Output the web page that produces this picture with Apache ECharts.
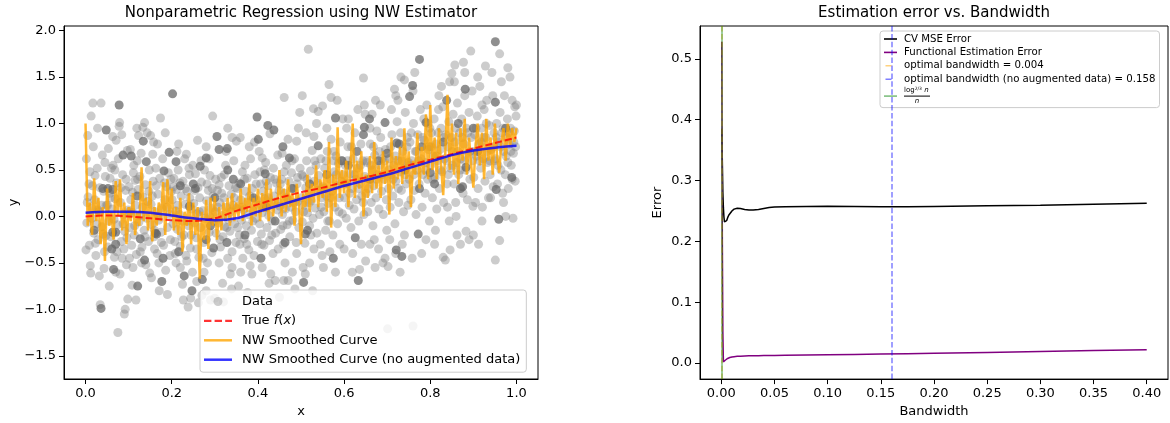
<!DOCTYPE html>
<html>
<head>
<meta charset="utf-8">
<script src="https://cdn.jsdelivr.net/npm/echarts@6/dist/echarts.min.js"></script>
<style>
  html, body { margin: 0; padding: 0; background: #fff; }
  #chart { width: 1170px; height: 423px; }
</style>
</head>
<body>
<div id="chart"></div>
<script>
// ---- Left panel: noisy observations (light = single, dark = repeated samples) ----
const scatterLight = [
  [0.017,1.22],[0.036,1.22],[0.013,1.08],[0.005,0.87],[0.046,0.43],[0.011,-0.53],[0.012,-0.61],[0.034,-0.95],[0.002,0.62],[0.008,0.35],
  [0.021,0.18],[0.027,0.52],[0.031,0.05],[0.042,0.27],[0.003,-0.07],[0.009,-0.31],[0.015,0.09],[0.019,-0.18],[0.024,-0.42],[0.029,-0.25],
  [0.033,0.31],[0.038,-0.11],[0.044,-0.38],[0.048,0.12],[0.006,0.21],[0.014,-0.02],[0.022,0.44],[0.026,-0.08],[0.039,0.66],[0.043,-0.56],
  [0.001,-0.36],[0.018,0.75],[0.047,-0.21],[0.032,-0.64],[0.028,0.95],
  [0.004,0.15],[0.016,0.33],[0.023,-0.29],[0.037,0.12],[0.041,-0.19],[0.045,0.58],[0.01,0.48],[0.029,0.07],
  [0.079,1.01],[0.078,0.97],[0.063,0.86],[0.071,0.82],[0.053,0.73],[0.06,0.52],[0.075,-1.25],[0.09,-1.05],[0.092,-1.0],[0.098,-0.89],
  [0.055,-0.75],[0.07,-0.6],[0.085,-0.45],[0.051,0.12],[0.054,-0.05],[0.057,0.41],[0.059,-0.22],[0.062,0.08],[0.064,0.55],[0.067,-0.44],
  [0.069,0.19],[0.072,0.36],[0.074,-0.09],[0.076,0.62],[0.081,0.15],[0.083,-0.27],[0.086,0.45],[0.088,0.02],[0.091,-0.16],[0.093,0.28],
  [0.095,-0.52],[0.097,0.71],[0.099,0.07],[0.08,-0.62],[0.084,0.88],[0.056,0.25],[0.066,-0.03],[0.089,-0.35],
  [0.052,-0.33],[0.058,0.2],[0.068,0.5],[0.073,-0.38],[0.082,0.31],[0.087,-0.08],[0.094,0.4],[0.096,-0.23],
  [0.137,1.01],[0.133,0.96],[0.123,0.87],[0.115,0.39],[0.12,0.6],[0.112,0.55],[0.108,-0.74],[0.11,-0.55],[0.13,-0.5],[0.14,-0.52],
  [0.101,0.32],[0.103,-0.12],[0.105,0.18],[0.107,-0.31],[0.109,0.04],[0.111,0.47],[0.113,-0.2],[0.116,0.12],[0.118,-0.41],[0.122,0.29],
  [0.124,-0.06],[0.126,0.43],[0.128,0.01],[0.131,-0.33],[0.133,0.21],[0.136,-0.15],[0.139,0.34],[0.142,-0.02],[0.144,0.16],[0.146,-0.27],
  [0.148,0.5],[0.149,-0.61],[0.104,0.72],[0.117,-0.9],[0.129,0.68],[0.143,0.9],[0.119,0.95],[0.102,-0.45],
  [0.102,0.05],[0.109,0.26],[0.114,-0.1],[0.121,0.4],[0.127,-0.38],[0.132,0.1],[0.138,-0.22],[0.147,0.27],
  [0.151,0.87],[0.158,0.8],[0.156,0.67],[0.174,1.06],[0.19,-0.84],[0.16,-0.35],[0.17,-0.5],[0.152,0.13],[0.154,-0.09],[0.157,0.38],
  [0.159,-0.22],[0.161,0.05],[0.163,0.52],[0.166,-0.4],[0.168,0.24],[0.17,-0.04],[0.172,0.41],[0.175,-0.17],[0.177,0.09],[0.179,0.62],
  [0.181,-0.31],[0.184,0.18],[0.186,-0.58],[0.188,0.32],[0.19,-0.12],[0.192,0.47],[0.195,0.02],[0.197,-0.25],[0.199,0.27],[0.153,-0.66],
  [0.167,0.78],[0.185,0.9],[0.196,-0.42],[0.171,-0.8],
  [0.155,0.22],[0.16,-0.15],[0.164,0.33],[0.169,0.0],[0.176,-0.28],[0.183,0.36],[0.189,0.1],[0.198,0.4],
  [0.216,0.78],[0.234,0.67],[0.24,0.52],[0.238,-0.975],[0.21,-0.5],[0.22,-0.55],[0.225,-0.73],[0.235,-0.48],[0.245,-0.2],[0.23,0.62],
  [0.201,0.18],[0.203,-0.08],[0.205,0.41],[0.207,-0.27],[0.209,0.06],[0.211,0.29],[0.213,-0.14],[0.215,0.5],[0.218,0.02],[0.22,-0.32],
  [0.222,0.22],[0.224,-0.05],[0.226,0.38],[0.228,-0.2],[0.231,0.13],[0.233,-0.42],[0.236,0.27],[0.239,-0.1],[0.241,0.45],[0.243,-0.34],
  [0.246,0.08],[0.248,-0.6],[0.249,0.55],[0.212,0.7],[0.227,-0.9],[0.244,-0.88],
  [0.204,0.32],[0.208,-0.4],[0.214,0.12],[0.219,0.36],[0.223,-0.22],[0.232,0.3],[0.237,-0.05],[0.242,0.2],
  [0.295,1.08],[0.28,0.75],[0.262,-0.93],[0.27,-0.85],[0.28,-0.8],[0.29,-0.9],[0.3,-0.88],[0.275,-0.6],[0.251,0.14],[0.253,-0.07],
  [0.255,0.46],[0.257,-0.23],[0.259,0.03],[0.261,0.31],[0.263,-0.44],[0.265,0.2],[0.267,-0.12],[0.269,0.37],[0.272,0.06],[0.274,-0.28],
  [0.276,0.5],[0.278,-0.02],[0.281,0.17],[0.283,-0.5],[0.285,0.28],[0.287,-0.17],[0.289,0.44],[0.291,0.09],[0.293,-0.39],[0.296,0.22],
  [0.298,-0.05],[0.26,0.82],[0.287,0.62],[0.258,-0.7],
  [0.254,0.28],[0.258,-0.35],[0.264,0.05],[0.268,0.6],[0.273,-0.45],[0.282,0.35],[0.288,0.0],[0.294,0.3],
  [0.35,0.81],[0.34,0.85],[0.33,0.95],[0.31,0.34],[0.336,-0.62],[0.33,-0.45],[0.31,-0.5],[0.32,-0.92],[0.34,-0.55],[0.301,0.05],
  [0.303,-0.18],[0.306,0.28],[0.308,-0.07],[0.311,0.15],[0.313,-0.33],[0.315,0.42],[0.317,0.01],[0.319,-0.22],[0.321,0.2],[0.323,-0.11],
  [0.325,0.55],[0.327,0.1],[0.331,-0.03],[0.333,0.33],[0.335,-0.16],[0.338,0.24],[0.34,-0.38],[0.342,0.12],[0.344,0.6],[0.346,-0.08],
  [0.348,0.31],[0.349,-0.28],[0.318,-0.72],[0.339,-0.78],[0.326,0.7],
  [0.302,0.4],[0.307,0.1],[0.312,-0.25],[0.316,0.25],[0.322,0.45],[0.328,-0.12],[0.337,0.05],[0.345,0.2],
  [0.37,0.55],[0.382,-0.53],[0.36,-0.6],[0.365,-0.45],[0.355,-0.75],[0.38,0.75],[0.351,0.09],[0.353,-0.12],[0.356,0.36],[0.358,-0.3],
  [0.36,0.18],[0.362,-0.04],[0.364,0.48],[0.366,0.07],[0.368,-0.24],[0.371,0.27],[0.373,-0.1],[0.375,0.41],[0.377,0.02],[0.379,-0.36],
  [0.381,0.22],[0.383,0.62],[0.385,-0.15],[0.387,0.3],[0.389,0.06],[0.391,-0.42],[0.393,0.45],[0.395,-0.02],[0.397,0.18],[0.399,-0.27],
  [0.359,0.85],[0.376,-0.82],[0.392,0.8],[0.386,-0.62],
  [0.352,0.3],[0.357,-0.2],[0.363,0.1],[0.369,0.4],[0.374,-0.3],[0.378,0.15],[0.388,-0.05],[0.396,0.35],
  [0.44,-0.69],[0.42,-0.96],[0.45,-0.87],[0.43,-0.62],[0.41,-0.55],[0.435,-0.4],[0.428,0.89],[0.415,0.5],[0.41,0.63],[0.402,0.12],
  [0.404,-0.08],[0.406,0.35],[0.408,-0.19],[0.41,0.04],[0.412,0.27],[0.414,-0.31],[0.416,0.19],[0.418,0.58],[0.421,-0.12],[0.423,0.33],
  [0.425,0.01],[0.427,-0.26],[0.429,0.42],[0.431,0.15],[0.433,-0.05],[0.436,0.52],[0.438,0.22],[0.441,-0.18],[0.443,0.36],[0.445,0.07],
  [0.447,-0.35],[0.449,0.28],[0.403,0.7],[0.426,-0.72],[0.446,0.66],
  [0.405,0.48],[0.409,-0.3],[0.413,0.1],[0.419,0.38],[0.424,0.2],[0.432,-0.2],[0.439,0.4],[0.448,0.15],
  [0.461,1.28],[0.497,1.12],[0.49,0.81],[0.47,0.83],[0.46,-0.69],[0.47,-0.69],[0.48,-0.6],[0.463,-0.5],[0.49,-0.4],[0.451,0.11],
  [0.453,-0.14],[0.455,0.4],[0.457,0.02],[0.459,-0.3],[0.462,0.25],[0.464,0.08],[0.466,0.55],[0.468,-0.09],[0.47,0.18],[0.472,0.38],
  [0.474,-0.22],[0.476,0.1],[0.478,0.47],[0.481,-0.04],[0.483,0.3],[0.485,0.62],[0.487,0.05],[0.489,-0.28],[0.491,0.35],[0.493,0.16],
  [0.495,-0.12],[0.498,0.52],[0.456,0.68],[0.486,-0.78],[0.494,0.95],
  [0.452,0.35],[0.458,-0.1],[0.461,0.48],[0.467,0.2],[0.473,-0.05],[0.479,0.6],[0.484,0.15],[0.492,0.42],
  [0.517,1.8],[0.503,1.3],[0.529,1.16],[0.54,1.13],[0.53,0.86],[0.51,-0.62],[0.52,-0.5],[0.53,-0.35],[0.545,-0.3],[0.505,-0.55],
  [0.501,0.2],[0.503,-0.06],[0.505,0.43],[0.507,0.12],[0.509,-0.29],[0.511,0.31],[0.513,0.6],[0.515,0.04],[0.518,0.26],[0.52,-0.1],
  [0.522,0.49],[0.524,0.17],[0.526,0.71],[0.528,-0.02],[0.531,0.38],[0.533,0.09],[0.535,0.55],[0.537,-0.18],[0.539,0.28],[0.541,0.44],
  [0.543,0.02],[0.546,0.62],[0.548,0.2],[0.549,-0.42],[0.512,0.9],[0.536,1.0],[0.527,-0.8],
  [0.502,0.45],[0.506,0.05],[0.514,0.4],[0.519,0.15],[0.523,-0.2],[0.532,0.6],[0.538,0.35],[0.547,0.1],
  [0.565,1.42],[0.55,1.19],[0.57,1.28],[0.56,0.95],[0.575,0.6],[0.58,-0.6],[0.59,-0.3],[0.551,0.32],[0.553,0.05],[0.555,0.52],
  [0.557,-0.15],[0.559,0.22],[0.561,0.7],[0.563,0.14],[0.566,-0.05],[0.568,0.4],[0.57,0.83],[0.572,0.27],[0.574,-0.2],[0.577,0.48],
  [0.579,0.1],[0.581,0.65],[0.583,0.33],[0.585,-0.08],[0.587,0.57],[0.589,0.2],[0.591,0.8],[0.593,0.38],[0.596,0.03],[0.598,0.45],
  [0.552,-0.55],[0.584,1.25],[0.567,-0.38],[0.597,1.05],
  [0.554,0.3],[0.558,0.6],[0.562,-0.05],[0.569,0.2],[0.576,0.7],[0.582,0.45],[0.588,0.05],[0.594,0.6],
  [0.645,1.49],[0.647,1.2],[0.636,-0.57],[0.65,-0.48],[0.62,-0.4],[0.6,-0.35],[0.64,-0.3],[0.61,1.05],[0.601,0.2],[0.603,0.55],
  [0.605,-0.02],[0.607,0.36],[0.609,0.75],[0.612,0.12],[0.614,0.46],[0.616,-0.12],[0.618,0.3],[0.621,0.62],[0.623,0.08],[0.625,0.9],
  [0.627,0.4],[0.629,0.18],[0.631,0.52],[0.634,-0.05],[0.637,0.35],[0.639,0.78],[0.641,0.22],[0.643,0.6],[0.646,0.02],[0.648,0.43],
  [0.649,1.1],[0.606,0.95],[0.632,1.15],[0.619,-0.6],
  [0.602,0.35],[0.608,0.6],[0.613,0.25],[0.617,0.75],[0.624,0.45],[0.633,0.3],[0.638,0.55],[0.644,0.15],
  [0.673,1.25],[0.69,-0.5],[0.695,-0.45],[0.68,-0.35],[0.66,-0.3],[0.67,-0.25],[0.66,0.95],[0.651,0.25],[0.653,0.58],[0.655,0.05],
  [0.657,0.4],[0.661,0.78],[0.663,0.15],[0.665,0.5],[0.667,-0.1],[0.669,0.33],[0.671,0.66],[0.674,0.2],[0.676,0.92],[0.678,0.45],
  [0.681,0.08],[0.683,0.55],[0.685,0.85],[0.687,0.27],[0.689,0.62],[0.691,0.02],[0.693,0.4],[0.696,0.72],[0.698,0.18],[0.684,1.2],
  [0.665,1.1],[0.699,-0.15],[0.672,-0.55],
  [0.652,0.6],[0.656,0.3],[0.662,0.55],[0.668,0.75],[0.675,0.4],[0.682,0.7],[0.688,0.45],[0.694,0.6],
  [0.717,1.37],[0.72,1.3],[0.732,1.5],[0.74,1.47],[0.725,1.25],[0.701,-1.21],[0.702,-0.54],[0.72,-0.4],[0.735,-0.3],[0.74,-0.2],
  [0.71,1.15],[0.703,0.3],[0.705,0.62],[0.707,0.1],[0.709,0.45],[0.711,0.88],[0.713,0.22],[0.715,0.55],[0.718,-0.08],[0.72,0.38],
  [0.723,1.02],[0.725,0.6],[0.727,0.15],[0.729,0.48],[0.731,0.9],[0.733,0.28],[0.736,0.7],[0.738,0.05],[0.739,0.52],[0.742,1.12],
  [0.744,0.35],[0.746,0.75],[0.748,0.12],[0.749,0.58],[0.706,-0.25],[0.73,-0.6],
  [0.704,0.5],[0.708,0.75],[0.714,0.4],[0.719,0.65],[0.726,0.3],[0.734,0.6],[0.741,0.45],[0.747,0.85],
  [0.76,-1.18],[0.78,-0.4],[0.79,-0.25],[0.76,1.35],[0.785,1.05],[0.795,1.0],[0.751,0.4],[0.753,0.8],[0.755,0.18],[0.757,0.6],
  [0.761,1.0],[0.763,0.28],[0.765,0.7],[0.767,0.02],[0.769,0.5],[0.771,0.88],[0.774,0.35],[0.777,1.15],[0.779,0.62],[0.781,0.1],
  [0.783,0.45],[0.786,0.82],[0.788,0.25],[0.79,0.58],[0.792,1.2],[0.794,0.4],[0.796,0.72],[0.798,-0.05],[0.764,1.55],[0.799,0.95],
  [0.758,-0.45],
  [0.752,0.55],[0.756,0.9],[0.762,0.45],[0.768,0.7],[0.773,0.6],[0.782,0.85],[0.789,0.5],[0.797,0.75],
  [0.85,1.54],[0.857,1.63],[0.83,-0.44],[0.835,-0.47],[0.846,-0.36],[0.81,-0.3],[0.84,0.1],[0.82,1.3],[0.845,1.45],[0.801,0.55],
  [0.803,0.9],[0.805,0.2],[0.807,0.65],[0.809,1.05],[0.811,0.42],[0.813,0.78],[0.815,0.08],[0.817,0.6],[0.819,1.15],[0.821,0.3],
  [0.823,0.72],[0.825,0.95],[0.827,0.48],[0.829,1.18],[0.831,0.15],[0.833,0.62],[0.836,0.88],[0.839,0.35],[0.841,0.75],[0.843,1.02],
  [0.847,0.52],[0.849,0.85],[0.812,-0.15],[0.826,1.4],[0.844,-0.05],
  [0.802,0.75],[0.806,0.4],[0.814,0.65],[0.818,0.9],[0.824,0.5],[0.832,0.85],[0.837,0.6],[0.842,0.45],
  [0.894,1.78],[0.877,1.66],[0.88,1.55],[0.883,-0.16],[0.899,0.11],[0.89,-0.25],[0.87,-0.3],[0.86,0.0],[0.851,0.7],[0.853,1.1],
  [0.855,0.35],[0.857,0.8],[0.859,0.15],[0.861,0.58],[0.863,1.22],[0.866,0.45],[0.868,0.9],[0.871,0.62],[0.873,1.05],[0.876,0.25],
  [0.878,0.78],[0.88,1.3],[0.882,0.5],[0.884,0.95],[0.886,0.18],[0.888,0.68],[0.89,1.12],[0.892,0.4],[0.895,0.85],[0.897,1.35],
  [0.898,0.6],[0.856,1.45],[0.862,-0.2],
  [0.852,0.55],[0.858,0.95],[0.864,0.7],[0.869,0.5],[0.874,0.85],[0.879,0.6],[0.887,0.9],[0.893,0.7],
  [0.91,1.5],[0.92,1.2],[0.93,1.0],[0.945,1.3],[0.9,-0.2],[0.92,-0.05],[0.94,0.2],[0.901,0.42],[0.903,0.88],[0.905,0.15],
  [0.907,0.65],[0.909,1.08],[0.911,0.3],[0.913,0.78],[0.915,1.4],[0.917,0.52],[0.919,0.95],[0.921,0.1],[0.923,0.62],[0.925,1.15],
  [0.927,0.38],[0.929,0.85],[0.931,1.25],[0.933,0.58],[0.935,0.2],[0.937,0.98],[0.939,0.45],[0.941,0.72],[0.943,1.55],[0.946,0.32],
  [0.948,0.9],[0.949,0.6],[0.912,-0.3],[0.928,1.62],
  [0.902,0.7],[0.906,0.95],[0.914,0.6],[0.918,0.8],[0.924,0.85],[0.932,0.7],[0.938,0.6],[0.947,0.75],
  [0.961,1.75],[0.985,1.5],[1.0,1.2],[0.996,1.18],[0.951,-0.47],[0.961,-0.26],[0.992,-0.02],[0.975,0.0],[0.97,0.15],[0.99,0.4],
  [0.98,0.58],[0.952,0.62],[0.954,1.0],[0.956,0.35],[0.958,0.8],[0.962,1.12],[0.964,0.5],[0.966,0.9],[0.968,0.25],[0.97,0.7],
  [0.972,1.3],[0.974,0.45],[0.977,0.85],[0.979,1.05],[0.981,0.3],[0.983,0.78],[0.986,0.95],[0.988,0.55],[0.99,1.25],[0.993,0.68],
  [0.995,0.92],[0.997,0.38],[0.999,1.08],[0.965,1.45],[0.98,1.6],[0.998,0.75],
  [0.953,0.85],[0.957,0.55],[0.963,0.75],[0.969,0.95],[0.976,0.65],[0.982,0.9],[0.987,0.7],[0.994,0.8]
];

const scatterDark = [
  [0.048,0.93],[0.036,-0.99],[0.04,0.3],[0.02,-0.15],
  [0.078,1.2],[0.087,0.66],[0.052,0.3],[0.063,0.29],[0.065,-0.57],[0.063,-0.17],[0.07,-0.17],[0.061,-0.35],[0.07,-0.3],
  [0.106,0.65],[0.134,0.81],[0.141,0.59],[0.121,-0.75],[0.137,-0.47],[0.127,-0.24],[0.12,0.22],
  [0.162,-0.18],[0.165,-0.19],[0.177,-0.7],[0.18,-0.45],[0.182,0.49],[0.194,0.69],
  [0.202,1.32],[0.21,0.59],[0.22,0.33],[0.229,-0.64],[0.247,-0.8],[0.216,-0.38],[0.241,0.11],[0.25,0.35],
  [0.266,0.54],[0.28,0.63],[0.271,-0.68],[0.297,-0.34],[0.3,0.2],[0.255,0.3],[0.29,-0.1],[0.28,-0.25],
  [0.305,0.86],[0.329,0.73],[0.343,0.4],[0.328,-0.28],[0.31,0.72],[0.33,0.5],
  [0.398,1.07],[0.37,-0.2],[0.36,0.35],[0.39,0.2],
  [0.423,0.98],[0.437,0.93],[0.401,0.83],[0.417,0.46],[0.407,-0.45],[0.42,0.1],[0.44,-0.05],
  [0.458,0.75],[0.473,0.63],[0.463,-0.28],[0.48,0.3],
  [0.506,-0.71],[0.51,-0.19],[0.515,-0.15],[0.54,0.76],[0.52,0.35],
  [0.58,1.06],[0.575,-0.45],[0.56,0.45],[0.595,0.6],
  [0.647,0.96],[0.645,0.88],[0.63,0.7],[0.626,-0.23],[0.633,-0.69],[0.61,0.55],
  [0.659,1.05],[0.695,1.01],[0.66,0.4],[0.68,0.6],
  [0.722,0.79],[0.728,0.78],[0.7,0.68],[0.734,-0.43],[0.721,-0.36],[0.741,0.5],
  [0.775,1.69],[0.759,1.41],[0.752,1.29],[0.79,1.01],[0.772,-0.19],[0.775,0.3],[0.78,0.75],
  [0.8,0.47],[0.81,0.35],[0.838,1.25],[0.83,0.8],
  [0.881,1.37],[0.883,0.53],[0.87,0.3],[0.875,0.32],[0.865,1.0],
  [0.951,1.23],[0.9,0.95],[0.91,0.7],
  [0.951,1.88],[0.989,0.42],[0.953,0.29],[0.959,-0.03],[0.975,0.95]
];

// NW estimate with augmented data (very small bandwidth, so it follows the noise)
const nwAugmented = [
  [0,1.0],[0.005,-0.1],[0.01,0.15],[0.015,-0.2],[0.02,0.41],[0.025,-0.05],[0.03,0.2],[0.035,-0.3],[0.04,0.1],[0.045,-0.48],
  [0.05,0.3],[0.055,-0.1],[0.06,0.05],[0.065,-0.25],[0.07,0.38],[0.075,0.0],[0.08,0.4],[0.085,-0.15],[0.09,0.15],[0.095,-0.3],
  [0.1,0.1],[0.105,-0.05],[0.11,0.25],[0.115,-0.2],[0.12,0.05],[0.125,-0.1],[0.13,0.53],[0.135,-0.05],[0.14,0.2],[0.145,-0.15],
  [0.15,0.38],[0.155,-0.27],[0.16,0.1],[0.165,-0.1],[0.17,0.15],[0.175,-0.05],[0.18,0.37],[0.185,-0.2],[0.19,0.4],[0.195,0.0],
  [0.2,0.3],[0.205,-0.15],[0.21,0.1],[0.215,-0.2],[0.22,0.2],[0.225,-0.38],[0.23,0.05],[0.235,-0.1],[0.24,0.25],[0.245,-0.3],
  [0.25,0.15],[0.255,-0.2],[0.26,0.1],[0.265,-0.67],[0.27,0.05],[0.275,-0.25],[0.28,0.18],[0.285,-0.35],[0.29,0.2],[0.295,-0.1],
  [0.3,0.22],[0.305,-0.25],[0.31,0.1],[0.315,-0.15],[0.32,0.15],[0.325,-0.05],[0.33,0.2],[0.335,-0.1],[0.34,0.25],[0.345,-0.05],
  [0.35,0.15],[0.355,0.0],[0.36,0.3],[0.365,-0.05],[0.37,0.2],[0.375,0.05],[0.38,0.35],[0.385,-0.1],[0.39,0.2],[0.395,0.0],
  [0.4,0.3],[0.405,-0.05],[0.41,0.25],[0.415,0.05],[0.42,0.4],[0.425,-0.05],[0.43,0.3],[0.435,0.0],[0.44,0.2],[0.445,0.1],
  [0.45,0.5],[0.455,0.0],[0.46,0.3],[0.465,0.05],[0.47,0.4],[0.475,0.1],[0.48,0.25],[0.485,-0.1],[0.49,0.35],[0.495,0.15],
  [0.5,-0.3],[0.505,0.25],[0.51,0.1],[0.515,0.45],[0.52,0.05],[0.525,0.35],[0.53,0.15],[0.535,0.55],[0.54,0.1],[0.545,0.4],
  [0.55,0.2],[0.555,0.5],[0.56,0.05],[0.565,0.8],[0.57,-0.12],[0.575,0.45],[0.58,0.1],[0.585,0.96],[0.59,0.2],[0.595,0.5],
  [0.6,0.25],[0.605,0.6],[0.61,0.1],[0.615,0.55],[0.62,1.0],[0.625,0.2],[0.63,0.6],[0.635,0.3],[0.64,0.7],[0.645,0.0],
  [0.65,0.45],[0.655,0.2],[0.66,0.65],[0.665,0.25],[0.67,0.8],[0.675,0.3],[0.68,0.55],[0.685,0.2],[0.69,0.7],[0.695,0.35],
  [0.7,0.6],[0.705,0.02],[0.71,0.85],[0.715,0.3],[0.72,0.65],[0.725,0.4],[0.73,0.75],[0.735,0.35],[0.74,0.95],[0.745,0.4],
  [0.75,0.7],[0.755,0.1],[0.76,0.6],[0.765,0.45],[0.77,0.9],[0.775,0.3],[0.78,0.75],[0.785,0.45],[0.79,1.1],[0.795,0.4],
  [0.8,1.2],[0.805,0.5],[0.81,0.85],[0.815,0.4],[0.82,0.95],[0.825,0.55],[0.83,0.23],[0.835,0.7],[0.84,1.31],[0.845,0.5],
  [0.85,1.0],[0.855,0.45],[0.86,0.9],[0.865,0.35],[0.87,0.95],[0.875,0.6],[0.88,1.05],[0.885,0.45],[0.89,0.85],[0.895,0.55],
  [0.9,0.31],[0.905,0.75],[0.91,1.0],[0.915,0.55],[0.92,0.9],[0.925,0.4],[0.93,1.05],[0.935,0.6],[0.94,0.85],[0.945,0.45],
  [0.95,1.0],[0.955,0.65],[0.96,0.47],[0.965,0.8],[0.97,0.95],[0.975,0.6],[0.98,1.0],[0.985,0.75],[0.99,0.95],[0.995,0.8],
  [1.0,0.95]
];

// Smooth curves sampled on a coarse grid
const curveX   = [0, 0.05, 0.1, 0.15, 0.2, 0.25, 0.3, 0.35, 0.4, 0.45, 0.5, 0.55, 0.6, 0.65, 0.7, 0.75, 0.8, 0.85, 0.9, 0.95, 1.0];
const trueY    = [0.0, 0.01, 0.0, -0.02, -0.04, -0.05, -0.02, 0.06, 0.13, 0.2, 0.26, 0.31, 0.37, 0.42, 0.48, 0.55, 0.61, 0.67, 0.73, 0.79, 0.85];
const nwNoAugY = [0.04, 0.05, 0.05, 0.04, 0.01, -0.02, -0.04, -0.02, 0.05, 0.12, 0.19, 0.26, 0.33, 0.39, 0.45, 0.52, 0.59, 0.66, 0.71, 0.74, 0.76];

// ---- Right panel: error against bandwidth ----
const bandwidths = [0.0005, 0.001, 0.0015, 0.002, 0.0025, 0.003, 0.0035, 0.004, 0.005, 0.006, 0.007, 0.008, 0.01, 0.012, 0.015, 0.018, 0.022, 0.026, 0.03, 0.035, 0.04, 0.045, 0.05, 0.06, 0.08, 0.1, 0.125, 0.15, 0.175, 0.2, 0.25, 0.3, 0.35, 0.4];
const cvMse      = [0.385, 0.33, 0.28, 0.255, 0.24, 0.232, 0.229, 0.23, 0.234, 0.239, 0.243, 0.246, 0.25, 0.253, 0.2545, 0.254, 0.2525, 0.2515, 0.2515, 0.2525, 0.254, 0.2555, 0.2565, 0.257, 0.2575, 0.2578, 0.2575, 0.257, 0.257, 0.2575, 0.2585, 0.2595, 0.261, 0.2625];
const funcErr    = [0.528, 0.2, 0.05, 0.002, 0.002, 0.003, 0.004, 0.005, 0.0065, 0.0075, 0.0083, 0.009, 0.0098, 0.0105, 0.011, 0.0113, 0.0116, 0.0118, 0.012, 0.0121, 0.0123, 0.0124, 0.0125, 0.0127, 0.0131, 0.0135, 0.014, 0.0147, 0.0154, 0.0161, 0.0175, 0.019, 0.0205, 0.022];
const bwOpt      = 0.004;
const bwOptNoAug = 0.158;
const bwTheory   = 0.0036;

// Tick positions
const xTicksLeft  = [0, 0.2, 0.4, 0.6, 0.8, 1.0];
const yTicksLeft  = [-1.5, -1.0, -0.5, 0, 0.5, 1.0, 1.5, 2.0];
const xTicksRight = [0, 0.05, 0.1, 0.15, 0.2, 0.25, 0.3, 0.35, 0.4];
const yTicksRight = [0, 0.1, 0.2, 0.3, 0.4, 0.5];

const FONT = 'DejaVu Sans';
const minus = s => s.replace('-', '\u2212');

function axisCommon(ticks, digits, name, nameGap) {
  return {
    type: 'value',
    name: name,
    nameLocation: 'middle',
    nameGap: nameGap,
    nameTextStyle: { fontFamily: FONT, fontSize: 13, color: '#000' },
    axisLine: { show: true, onZero: false, lineStyle: { color: '#000', width: 1 } },
    axisTick: { show: true, inside: false, length: 5, customValues: ticks, lineStyle: { color: '#000', width: 1 } },
    axisLabel: {
      customValues: ticks, margin: 8, color: '#000', fontFamily: FONT, fontSize: 13,
      formatter: v => minus(Number(v).toFixed(digits))
    },
    splitLine: { show: false }
  };
}

// Legend handle shapes (short line samples like a matplotlib legend)
const solidLong  = 'path://M0,0H28V2.5H0Z';
const dashedLong = 'path://M0,0H7.4V2.2H0Z M10.6,0H18V2.2H10.6Z M21.2,0H28V2.2H21.2Z';
const solidShort = 'path://M0,0H13V1.6H0Z';
const dashShort  = 'path://M0,0H13V0.01H0Z M1.5,0H7.5V1.6H1.5Z';

const optLabel      = 'optimal bandwidth = ' + bwOpt.toFixed(3);
const optNoAugLabel = 'optimal bandwidth (no augmented data) = ' + bwOptNoAug.toFixed(3);
const theoryLabel   = 'log^(2/3) n / n';

const chart = echarts.init(document.getElementById('chart'), null, { renderer: 'canvas' });

chart.setOption({
  animation: false,
  backgroundColor: '#fff',
  graphic: [
    { type: 'text', x: 301, y: 13, style: { text: 'Nonparametric Regression using NW Estimator', fontFamily: FONT, fontSize: 15, fill: '#000', align: 'center', verticalAlign: 'middle' } },
    { type: 'text', x: 934, y: 13, style: { text: 'Estimation error vs. Bandwidth', fontFamily: FONT, fontSize: 15, fill: '#000', align: 'center', verticalAlign: 'middle' } }
  ],
  grid: [
    { left: 64, top: 26, width: 474, height: 354, show: true, borderColor: '#000', borderWidth: 1, backgroundColor: 'transparent' },
    { left: 700, top: 26, width: 468, height: 354, show: true, borderColor: '#000', borderWidth: 1, backgroundColor: 'transparent' }
  ],
  xAxis: [
    Object.assign(axisCommon(xTicksLeft, 1, 'x', 26), { gridIndex: 0, min: -0.05, max: 1.05 }),
    Object.assign(axisCommon(xTicksRight, 2, 'Bandwidth', 24), { gridIndex: 1, min: -0.02, max: 0.42 })
  ],
  yAxis: [
    Object.assign(axisCommon(yTicksLeft, 1, 'y', 44), { gridIndex: 0, min: -1.75, max: 2.05 }),
    Object.assign(axisCommon(yTicksRight, 1, 'Error', 36), { gridIndex: 1, min: -0.0264, max: 0.554 })
  ],
  legend: [
    {
      data: [
        { name: 'Data', icon: 'circle', itemStyle: { color: 'rgba(128,128,128,0.5)' } },
        { name: 'True f(x)', icon: dashedLong, itemStyle: { color: 'rgba(255,0,0,0.8)' } },
        { name: 'NW Smoothed Curve', icon: solidLong, itemStyle: { color: 'rgba(255,165,0,0.8)' } },
        { name: 'NW Smoothed Curve (no augmented data)', icon: solidLong, itemStyle: { color: 'rgba(0,0,255,0.8)' } }
      ],
      orient: 'vertical', left: 200, top: 290,
      itemWidth: 28, itemHeight: 9, itemGap: 4.4,
      padding: [4, 6, 5, 4],
      backgroundColor: 'rgba(255,255,255,0.8)', borderColor: '#cccccc', borderWidth: 1, borderRadius: 3,
      selectedMode: false,
      textStyle: {
        fontFamily: FONT, fontSize: 13, color: '#000', lineHeight: 15, padding: [0, 0, 0, 5],
        rich: {
          r: { fontFamily: FONT, fontSize: 13, color: '#000' },
          i: { fontFamily: FONT, fontSize: 13, fontStyle: 'italic', color: '#000' }
        }
      },
      formatter: n => n === 'True f(x)' ? '{r|True }{i|f}{r|(}{i|x}{r|)}' : n
    },
    {
      data: [
        { name: 'CV MSE Error', icon: solidShort, itemStyle: { color: '#000000' } },
        { name: 'Functional Estimation Error', icon: solidShort, itemStyle: { color: '#800080' } },
        { name: optLabel, icon: dashShort, itemStyle: { color: 'rgba(255,165,0,0.5)' } },
        { name: optNoAugLabel, icon: dashShort, itemStyle: { color: 'rgba(0,0,255,0.5)' } },
        { name: theoryLabel, icon: solidShort, itemStyle: { color: 'rgba(0,128,0,0.5)' } }
      ],
      orient: 'vertical', left: 880, top: 31,
      itemWidth: 13, itemHeight: 8, itemGap: 1.4,
      padding: [2, 4, 2, 4],
      backgroundColor: 'rgba(255,255,255,0.8)', borderColor: '#cccccc', borderWidth: 1, borderRadius: 3,
      selectedMode: false,
      textStyle: {
        fontFamily: FONT, fontSize: 10.2, color: '#000', lineHeight: 12, padding: [0, 0, 0, 2],
        rich: {
          num: { fontFamily: FONT, fontSize: 7, color: '#000', lineHeight: 8 },
          sup: { fontFamily: FONT, fontSize: 4.5, color: '#000', lineHeight: 8, verticalAlign: 'top' },
          ni:  { fontFamily: FONT, fontSize: 7, fontStyle: 'italic', color: '#000', lineHeight: 8 },
          bar: { width: 26, height: 1, lineHeight: 3, fontSize: 1, backgroundColor: '#000' },
          den: { fontFamily: FONT, fontSize: 7, fontStyle: 'italic', color: '#000', lineHeight: 8, width: 26, align: 'center' }
        }
      },
      formatter: n => n === theoryLabel ? '{num|log}{sup|2/3}{ni| n}\n{bar| }\n{den|n}' : n
    }
  ],
  series: [
    {
      type: 'scatter', name: 'Data', xAxisIndex: 0, yAxisIndex: 0, data: scatterLight,
      symbolSize: 9, itemStyle: { color: 'rgba(128,128,128,0.5)' }, silent: true, z: 1
    },
    {
      type: 'scatter', name: 'Data', xAxisIndex: 0, yAxisIndex: 0, data: scatterDark,
      symbolSize: 9, itemStyle: { color: 'rgba(100,100,100,0.9)' }, silent: true, z: 1
    },
    {
      type: 'line', name: 'NW Smoothed Curve', xAxisIndex: 0, yAxisIndex: 0, data: nwAugmented,
      symbol: 'none', showSymbol: false, silent: true, z: 2,
      itemStyle: { color: '#FFA500' }, lineStyle: { color: '#FFA500', width: 2.5, opacity: 0.8 }
    },
    {
      type: 'line', name: 'True f(x)', xAxisIndex: 0, yAxisIndex: 0, data: curveX.map((x, i) => [x, trueY[i]]),
      symbol: 'none', showSymbol: false, smooth: 0.3, silent: true, z: 3,
      itemStyle: { color: '#ff0000' }, lineStyle: { color: '#ff0000', width: 2, type: [7, 3], opacity: 0.8 }
    },
    {
      type: 'line', name: 'NW Smoothed Curve (no augmented data)', xAxisIndex: 0, yAxisIndex: 0, data: curveX.map((x, i) => [x, nwNoAugY[i]]),
      symbol: 'none', showSymbol: false, smooth: 0.3, silent: true, z: 4,
      itemStyle: { color: '#0000ff' }, lineStyle: { color: '#0000ff', width: 2.5, opacity: 0.8 }
    },
    {
      type: 'line', name: 'CV MSE Error', xAxisIndex: 1, yAxisIndex: 1, data: bandwidths.map((b, i) => [b, cvMse[i]]),
      symbol: 'none', showSymbol: false, silent: true, z: 2,
      itemStyle: { color: '#000000' }, lineStyle: { color: '#000000', width: 1.5 }
    },
    {
      type: 'line', name: 'Functional Estimation Error', xAxisIndex: 1, yAxisIndex: 1, data: bandwidths.map((b, i) => [b, funcErr[i]]),
      symbol: 'none', showSymbol: false, silent: true, z: 2,
      itemStyle: { color: '#800080' }, lineStyle: { color: '#800080', width: 1.5 }
    },
    {
      type: 'line', name: optLabel, xAxisIndex: 1, yAxisIndex: 1, data: [],
      symbol: 'none', silent: true, z: 3,
      itemStyle: { color: '#FFA500' }, lineStyle: { color: '#FFA500', width: 1.5, type: [5.5, 2.4], opacity: 0.5 },
      markLine: { symbol: ['none', 'none'], silent: true, label: { show: false }, animation: false,
        lineStyle: { color: '#FFA500', width: 1.5, type: [5.5, 2.4], opacity: 0.5 }, data: [{ xAxis: bwOpt }] }
    },
    {
      type: 'line', name: optNoAugLabel, xAxisIndex: 1, yAxisIndex: 1, data: [],
      symbol: 'none', silent: true, z: 3,
      itemStyle: { color: '#0000ff' }, lineStyle: { color: '#0000ff', width: 1.5, type: [5.5, 2.4], opacity: 0.5 },
      markLine: { symbol: ['none', 'none'], silent: true, label: { show: false }, animation: false,
        lineStyle: { color: '#0000ff', width: 1.5, type: [5.5, 2.4], opacity: 0.5 }, data: [{ xAxis: bwOptNoAug }] }
    },
    {
      type: 'line', name: theoryLabel, xAxisIndex: 1, yAxisIndex: 1, data: [],
      symbol: 'none', silent: true, z: 3,
      itemStyle: { color: '#008000' }, lineStyle: { color: '#008000', width: 1.5, opacity: 0.5 },
      markLine: { symbol: ['none', 'none'], silent: true, label: { show: false }, animation: false,
        lineStyle: { color: '#008000', width: 1.5, type: 'solid', opacity: 0.5 }, data: [{ xAxis: bwTheory }] }
    }
  ]
});
</script>
</body>
</html>
